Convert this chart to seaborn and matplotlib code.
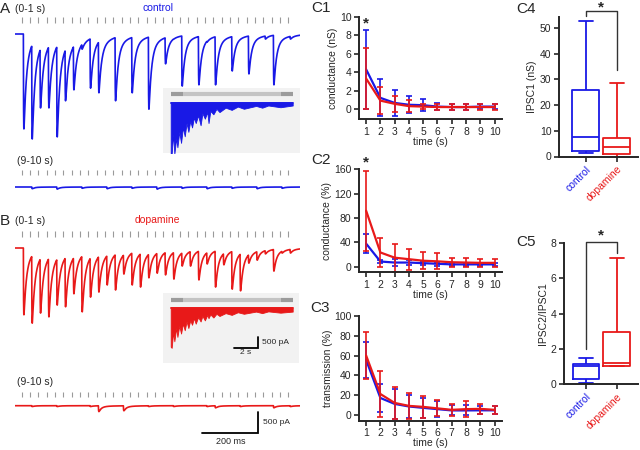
import numpy as np
import pandas as pd
import seaborn as sns
import matplotlib
matplotlib.use("Agg")
from matplotlib import pyplot as plt

sns.set_style("ticks")
plt.rcParams['font.family'] = ['Liberation Sans', 'DejaVu Sans']

BLUE = "#1919e6"
RED = "#e81919"
W, H = 640, 450

# ---------------- data ----------------
# stimulus train: 33 pulses, 30 ms apart (ms)
stim_ms = np.arange(33) * 30
# peak IPSC depth at each pulse (pA)
ctrl_0_1 = [2260, 2500, 1760, 1760, 2450, 1590, 1330, 360, 1290, 1400, 190, 1590, 120,
            1400, 120, 1790, 120, 710, 120, 1240, 120, 1210, 190, 1210, 120, 880, 120,
            950, 120, 120, 1210, 120, 120]
da_0_1 = [1590, 1790, 1550, 1640, 1360, 1400, 1090, 1520, 1170, 1050, 880, 1000, 620,
          880, 930, 710, 600, 640, 740, 430, 430, 760, 380, 930, 400, 980, 1020, 360,
          290, 140, 550, 120, 120]
ctrl_9_10 = [0, 40, 0, 0, 50, 0, 0, 30, 0, 0, 40, 0, 0, 30, 0, 0, 50, 0, 0, 30, 0, 0,
             40, 0, 0, 30, 0, 0, 40, 0, 0, 30, 0]
da_9_10 = [0, 20, 0, 0, 20, 0, 0, 0, 20, 140, 0, 0, 120, 0, 0, 20, 0, 0, 20, 0, 0, 0,
           20, 50, 0, 0, 20, 0, 0, 0, 50, 0, 20]

# 10 s insets: lower edge of the response (s, pA)
inset_t = [0.0, 0.08, 0.2, 0.3, 0.45, 0.55, 0.7, 0.85, 1.0, 1.15, 1.3, 1.45, 1.6, 1.75,
           1.9, 2.05, 2.25, 2.45, 2.6, 2.8, 3.0, 3.1, 3.25, 3.5, 3.75, 4.0, 4.5, 5.0,
           5.5, 6.0, 7.0, 7.5, 8.0, 9.0, 10.0]
inset_ctrl = [2300, 2300, 1400, 2300, 1600, 2000, 1300, 1800, 1100, 1500, 900, 1300, 800,
              1100, 650, 900, 550, 1000, 450, 700, 400, 900, 350, 500, 250, 400, 200, 300,
              150, 250, 120, 200, 100, 180, 100]
inset_da = [1750, 1800, 1100, 1500, 900, 1300, 800, 1150, 700, 1000, 600, 900, 550, 750,
            450, 700, 400, 600, 350, 550, 300, 450, 280, 420, 250, 350, 220, 300, 180,
            250, 150, 220, 140, 200, 150]

time_s = [1, 2, 3, 4, 5, 6, 7, 8, 9, 10]
c1_ctrl = [4.3, 1.2, 0.65, 0.45, 0.4, 0.25, 0.2, 0.2, 0.25, 0.25]
c1_ctrl_sd = [4.3, 2.0, 1.4, 0.95, 0.65, 0.4, 0.3, 0.3, 0.3, 0.3]
c1_da = [3.3, 0.9, 0.55, 0.3, 0.25, 0.2, 0.2, 0.2, 0.2, 0.2]
c1_da_sd = [3.3, 1.5, 0.9, 0.65, 0.3, 0.35, 0.3, 0.3, 0.3, 0.3]

c2_ctrl = [38, 8.7, 7, 7, 6, 5, 4, 4, 4, 4]
c2_ctrl_sd = [16, 3, 6, 4, 3, 3, 2, 2, 2, 2]
c2_da = [92, 23.5, 15, 12.5, 10, 9, 7.5, 7, 6.5, 6.5]
c2_da_sd = [66, 23, 23, 17, 14, 13, 7, 7, 6, 6]

c3_ctrl = [55.5, 17, 11, 8.4, 7, 5.7, 4.4, 4.4, 4.5, 4.5]
c3_ctrl_sd = [18, 14, 15, 12, 10, 8, 5, 5, 4, 4]
c3_da = [60, 21, 12, 9, 8, 6.5, 5, 5.7, 6, 5]
c3_da_sd = [24, 23, 16, 13, 11, 8, 6, 8, 5, 4]

groups = ["control", "dopamine"]
# five-number summaries (min, q1, median, q3, max)
c4_ctrl = [1.2, 2.0, 7.4, 25.7, 52.6]
c4_da = [0.0, 0.8, 3.6, 7.3, 28.8]
c5_ctrl = [0.05, 0.3, 1.0, 1.13, 1.45]
c5_da = [1.0, 1.0, 1.17, 2.95, 7.18]

# ---------------- helpers ----------------
fig = plt.figure(figsize=(6.4, 4.5), dpi=100)


def box(x0, y0, x1, y1):
    return fig.add_axes([x0 / W, 1 - y1 / H, (x1 - x0) / W, (y1 - y0) / H])


def ftext(x, y, s, **kw):
    fig.text(x / W, 1 - y / H, s, **kw)


def kernel(s):
    s = np.clip(s, 0, None)
    k = (1 - np.exp(-s / 0.7)) * (0.85 * np.exp(-s / 9.0) + 0.15 * np.exp(-s / 40.0))
    return np.where(s > 0, k, 0)


s_ref = np.linspace(0, 30, 3001)
K_MAX = kernel(s_ref).max()
S_PEAK = s_ref[np.argmax(kernel(s_ref))]
DELAY = 6
t_ms = np.arange(-30, 1010, 0.25)


def build_trace(depths):
    y = np.zeros_like(t_ms)
    for ts, d in zip(stim_ms, depths):
        prev = -np.interp(ts + DELAY + S_PEAK, t_ms, y)
        amp = max(d - prev, 0)
        y -= amp * kernel(t_ms - ts - DELAY) / K_MAX
    return y


PX_MS = 0.2778      # px per ms
T0_PX = 21.7        # px of first stimulus
PA_PX = 23.8        # pA per px


def trace_axes(top, bottom, base, tick_top, tick_bot, depths, color):
    ax = box(15, top, 300, bottom)
    ax.set_xlim((15 - T0_PX) / PX_MS, (300 - T0_PX) / PX_MS)
    ax.set_ylim(-(bottom - base) * PA_PX, (base - top) * PA_PX)
    ax.axis("off")
    hgt = bottom - top
    ax.vlines(stim_ms, (bottom - tick_bot) / hgt, (bottom - tick_top) / hgt,
              transform=ax.get_xaxis_transform(), color="#9a9a9a", lw=0.8)
    sns.lineplot(x=t_ms, y=build_trace(depths), color=color, lw=1.2, ax=ax)
    return ax


INS_PX_S = 12.2
INS_PA_PX = 45.5


def inset_axes(x0, top, x1, bottom, base, bar, edge, color):
    ax = box(x0, top, x1, bottom)
    ax.set_facecolor("#f2f2f2")
    for sp in ax.spines.values():
        sp.set_visible(False)
    ax.set_xticks([])
    ax.set_yticks([])
    ax.set_xlim((x0 - 170.7) / INS_PX_S, (x1 - 170.7) / INS_PX_S)
    ax.set_ylim(-(bottom - base) * INS_PA_PX, (base - top) * INS_PA_PX)
    ybar = (base - bar) * INS_PA_PX
    ax.hlines([ybar] * 3, [0, 1, 9], [1, 9, 10], colors=["#9c9c9c", "#c4c4c4", "#9c9c9c"], lw=3)
    ax.fill_between(inset_t, 0, -np.array(edge), color=color, lw=0.6)
    ax.plot([0, 10], [0, 0], color=color, lw=1.4)
    return ax


# ---------------- A / B traces ----------------
trace_axes(14, 150, 34, 17, 23, ctrl_0_1, BLUE)
trace_axes(165, 196, 187, 170.5, 175.5, ctrl_9_10, BLUE)
trace_axes(226, 330, 248, 231, 237, da_0_1, RED)
axb9 = trace_axes(386, 448, 405.7, 391.7, 396.7, da_9_10, RED)

# scale bar 200 ms / 500 pA
tx = (258 - T0_PX) / PX_MS
axb9.plot([tx - 200, tx, tx], [-(433 - 405.7) * PA_PX, -(433 - 405.7) * PA_PX,
                                -(433 - 405.7) * PA_PX + 500], color="black", lw=1.3,
          solid_joinstyle="miter")

inset_axes(163, 88, 300, 153, 103.3, 94.3, inset_ctrl, BLUE)
axbi = inset_axes(162.7, 293.3, 299, 363.3, 308.3, 300, inset_da, RED)
sx = (258 - 170.7) / INS_PX_S
sy = -(348 - 308.3) * INS_PA_PX
axbi.plot([sx - 2, sx, sx], [sy, sy, sy + 500], color="black", lw=1.3, solid_joinstyle="miter")

ftext(0, 9, "A", fontsize=11, va="center")
ftext(15, 9, "(0-1 s)", fontsize=7.5, va="center")
ftext(158, 8, "control", fontsize=7.5, va="center", ha="center", color=BLUE)
ftext(17, 161, "(9-10 s)", fontsize=7.5, va="center")
ftext(0, 221, "B", fontsize=11, va="center")
ftext(15, 221, "(0-1 s)", fontsize=7.5, va="center")
ftext(157, 220, "dopamine", fontsize=7.5, va="center", ha="center", color=RED)
ftext(17, 382, "(9-10 s)", fontsize=7.5, va="center")
ftext(262, 342, "500 pA", fontsize=6, va="center")
ftext(246, 353, "2 s", fontsize=6, va="center", ha="center")
ftext(263, 423, "500 pA", fontsize=6, va="center")
ftext(231, 441, "200 ms", fontsize=6.5, va="center", ha="center")

# ---------------- C1-C3 ----------------


def style(ax):
    sns.despine(ax=ax)
    for sp in ("left", "bottom"):
        ax.spines[sp].set_linewidth(1.4)
    ax.tick_params(length=3.5, width=1.2, labelsize=7.5, pad=2)


def time_panel(ax, ctrl, ctrl_sd, da, da_sd, ylim, yticks, ylabel):
    for m, sd, c in ((ctrl, ctrl_sd, BLUE), (da, da_sd, RED)):
        sns.lineplot(x=time_s, y=m, color=c, lw=1.6, ax=ax)
        ax.errorbar(time_s, m, yerr=sd, fmt="none", ecolor=c, elinewidth=1.2,
                    capsize=2.2, capthick=1.2)
    ax.set_xlim(0.5, 10.5)
    ax.set_ylim(*ylim)
    ax.set_xticks(time_s)
    ax.set_yticks(yticks)
    ax.set_ylabel(ylabel, fontsize=7.5, labelpad=1)
    ax.set_xlabel("time (s)", fontsize=7.5, labelpad=0)
    style(ax)


ax1 = box(359, 17, 501.7, 119)
time_panel(ax1, c1_ctrl, c1_ctrl_sd, c1_da, c1_da_sd, (-1.1, 10), [0, 2, 4, 6, 8, 10],
           "conductance (nS)")
ax1.text(1, 9.3, "*", ha="center", va="center", fontsize=11, fontweight="bold")

ax2 = box(359, 169.3, 501.7, 272.3)
time_panel(ax2, c2_ctrl, c2_ctrl_sd, c2_da, c2_da_sd, (-9, 160), [0, 40, 80, 120, 160],
           "conductance (%)")
ax2.text(1, 171, "*", ha="center", va="center", fontsize=11, fontweight="bold", clip_on=False)

ax3 = box(359, 316, 501.7, 420.7)
time_panel(ax3, c3_ctrl, c3_ctrl_sd, c3_da, c3_da_sd, (-6, 100), [0, 20, 40, 60, 80, 100],
           "transmission (%)")

# ---------------- C4 / C5 ----------------


def box_panel(ax, ctrl, da, ylim, yticks, ylabel, xlim, bracket, star_y):
    df = pd.DataFrame({"group": [groups[0]] * len(ctrl) + [groups[1]] * len(da),
                       "value": ctrl + da})
    sns.boxplot(data=df, x="group", y="value", hue="group",
                palette={groups[0]: BLUE, groups[1]: RED}, fill=False, whis=(0, 100),
                width=0.87, linewidth=1.3, legend=False, ax=ax)
    ax.set_xlim(*xlim)
    ax.set_ylim(*ylim)
    ax.set_yticks(yticks)
    ax.set_xlabel("")
    ax.set_ylabel(ylabel, fontsize=7.5, labelpad=2)
    style(ax)
    ax.set_xticks([0, 1])
    ax.set_xticklabels(groups, rotation=45, ha="right", rotation_mode="anchor", fontsize=7.5)
    for lab, c in zip(ax.get_xticklabels(), (BLUE, RED)):
        lab.set_color(c)
    top, left_end, right_end = bracket
    ax.plot([0, 0, 1, 1], [left_end, top, top, right_end], color="#333333", lw=1,
            clip_on=False)
    ax.text(0.5, star_y, "*", ha="center", va="center", fontsize=11, fontweight="bold",
            clip_on=False)


ax4 = box(559, 17, 638, 156.5)
box_panel(ax4, c4_ctrl, c4_da, (0, 54.3), [0, 10, 20, 30, 40, 50], "IPSC1 (nS)",
          (-0.87, 1.68), (56.5, 54.8, 33.7), 58.0)

ax5 = box(564, 243.3, 638, 384)
box_panel(ax5, c5_ctrl, c5_da, (0, 8), [0, 2, 4, 6, 8], "IPSC2/IPSC1",
          (-0.71, 1.68), (8.07, 2.0, 7.45), 8.45)

for lab, x, y in (("C1", 311, 8), ("C2", 311, 160), ("C3", 310, 308), ("C4", 516, 9),
                  ("C5", 516, 242)):
    ftext(x, y, lab, fontsize=11, va="center")

fig.savefig("out.png", dpi=100)
